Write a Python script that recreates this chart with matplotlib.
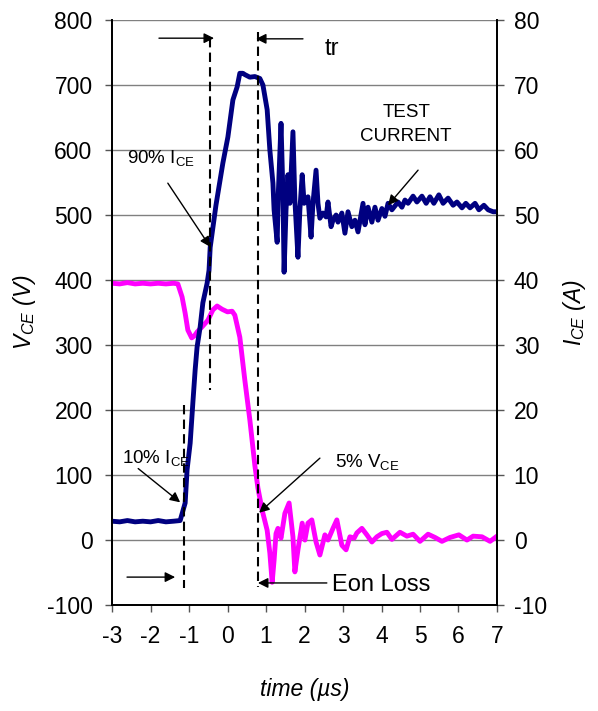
import numpy as np
import matplotlib
matplotlib.use("Agg")
import matplotlib.pyplot as plt

plt.rcParams['font.family'] = ['Liberation Sans', 'DejaVu Sans']
plt.rcParams['mathtext.fontset'] = 'custom'
plt.rcParams['mathtext.rm'] = 'Liberation Sans'
plt.rcParams['mathtext.it'] = 'Liberation Sans:italic'
plt.rcParams['axes.unicode_minus'] = False

# collector-emitter voltage (V)
t_v = [-3.0, -2.8, -2.6, -2.4, -2.2, -2.0, -1.8, -1.6, -1.4, -1.29, -1.18, -1.10,
       -1.03, -0.93, -0.86, -0.79, -0.66, -0.51, -0.38, -0.27, -0.14, 0.0, 0.12,
       0.19, 0.32, 0.45, 0.58, 0.71, 0.79, 0.90, 1.03, 1.10, 1.16, 1.21, 1.26,
       1.31, 1.39, 1.49, 1.60, 1.70, 1.75, 1.83, 1.94, 2.01, 2.09, 2.19, 2.30,
       2.40, 2.53, 2.61, 2.74, 2.84, 2.97, 3.08, 3.18, 3.29, 3.36, 3.49, 3.62,
       3.75, 3.88, 4.01, 4.14, 4.27, 4.48, 4.66, 4.82, 5.0, 5.21, 5.39, 5.57,
       5.78, 6.01, 6.22, 6.38, 6.61, 6.82, 7.0]
vce = [395, 394, 396, 394, 395, 394, 395, 394, 395, 394, 374, 349,
       323, 311, 314, 320, 328, 338, 354, 360, 355, 351, 352,
       346, 312, 246, 185, 115, 80, 46, 15, -20, -65, -31, 10,
       18, 3, 41, 57, 5, -49, -15, 26, 0, 26, 31, -3,
       -23, 8, 0, 18, 31, -8, -15, 5, 3, 11, 18, 8,
       -3, 5, 10, 12, 1, 12, 6, 9, -2, 9, 4, -2,
       4, 8, 0, 6, 5, -2, 6]

# collector current (A)
t_i = [-3.0, -2.8, -2.6, -2.4, -2.2, -2.0, -1.8, -1.6, -1.4, -1.23, -1.10, -1.05,
       -0.97, -0.90, -0.84, -0.79, -0.71, -0.64, -0.53, -0.48, -0.45, -0.30, -0.12,
       0.01, 0.14, 0.25, 0.32, 0.40, 0.45, 0.58, 0.71, 0.84, 0.92, 1.03, 1.10,
       1.18, 1.21, 1.29, 1.32, 1.39, 1.44, 1.47, 1.52, 1.57, 1.62, 1.70, 1.75,
       1.83, 1.88, 1.94, 1.99, 2.04, 2.09, 2.17, 2.22, 2.30, 2.35, 2.40, 2.48,
       2.56, 2.61, 2.69, 2.74, 2.82, 2.87, 2.97, 3.05, 3.13, 3.23, 3.31, 3.39,
       3.52, 3.57, 3.65, 3.75, 3.83, 3.91, 4.01, 4.09, 4.17, 4.27, 4.35, 4.43,
       4.53, 4.61, 4.69, 4.82, 4.92, 5.05, 5.16, 5.26, 5.36, 5.49, 5.60, 5.73,
       5.86, 5.96, 6.09, 6.19, 6.30, 6.43, 6.53, 6.66, 6.77, 6.90, 7.0]
ice = [2.9, 2.8, 3.0, 2.8, 2.9, 2.8, 3.0, 2.8, 2.9, 3.0, 5.7, 10.8,
       14.9, 21.1, 26.2, 29.7, 32.8, 36.5, 39.5, 41.5, 45.0, 51.5, 58.0,
       62.0, 67.7, 69.7, 71.8, 71.8, 71.6, 71.2, 71.3, 71.0, 70.0, 66.2, 60.0,
       54.9, 50.8, 45.8, 53.4, 64.1, 53.4, 41.2, 50.8, 56.2, 51.8, 62.8, 52.3,
       43.5, 50.8, 56.2, 51.8, 52.3, 52.8, 46.6, 51.8, 56.9, 51.8, 49.5, 50.3,
       49.7, 52.0, 48.2, 49.2, 50.0, 48.9, 50.3, 47.2, 50.5, 48.2, 49.2, 47.4,
       51.8, 48.5, 51.2, 48.9, 51.2, 49.2, 51.0, 49.8, 51.8, 50.8, 51.4, 52.0,
       51.2, 52.3, 51.8, 52.9, 52.0, 52.9, 51.8, 52.8, 51.8, 53.1, 51.8, 52.6,
       51.5, 52.0, 51.1, 51.8, 51.1, 51.8, 50.8, 51.5, 50.8, 50.5, 50.5]

# marker lines (time, V from, V to)
dash_lines = [(-1.13, 208, -74), (-0.45, 772, 231), (0.79, 782, -72)]

fig = plt.figure(figsize=(5.98, 7.11), dpi=100)
ax = fig.add_axes([0.1873, 0.149, 0.6438, 0.8229])
ax2 = ax.twinx()

ax.plot(t_v, vce, color='#FF00FF', lw=3.5, solid_joinstyle='round', solid_capstyle='round')
ax2.plot(t_i, ice, color='#000080', lw=3.5, solid_joinstyle='round', solid_capstyle='round')

ax.set_xlim(-3, 7)
ax.set_ylim(-100, 800)
ax2.set_ylim(-10, 80)
ax.set_xticks(np.arange(-3, 8, 1))
ax.set_yticks(np.arange(-100, 801, 100))
ax2.set_yticks(np.arange(-10, 81, 10))
ax.yaxis.grid(True, color='#808080', lw=1)
ax.set_axisbelow(True)

for a in (ax, ax2):
    a.spines['top'].set_visible(False)
    for s in ('left', 'right', 'bottom'):
        a.spines[s].set_linewidth(1.3)
ax.tick_params(axis='both', direction='out', length=5, width=1, color='#555555',
               labelsize=16.5, pad=9)
ax2.tick_params(axis='y', direction='out', length=5, width=1, color='#555555',
                labelsize=16.5, pad=7)

ax.set_xlabel('time (µs)', fontsize=16.5, style='italic', labelpad=22)
ax.set_ylabel(r'$\mathit{V_{CE}}$ (V)', fontsize=16.5, style='italic', labelpad=6)
ax2.set_ylabel(r'$\mathit{I_{CE}}$ (A)', fontsize=16.5, style='italic', labelpad=10)

tr = ax.transData
for x, y0, y1 in dash_lines:
    ax2.plot([x, x], [y0, y1], transform=tr, color='k', lw=1.5, ls=(0, (4.5, 2.5)))

arrow = dict(arrowstyle='-|>', color='k', lw=1, mutation_scale=15, shrinkA=0, shrinkB=0)

def note(xy, xytext):
    ax2.annotate('', xy=xy, xytext=xytext, xycoords=tr, textcoords=tr, arrowprops=arrow)

note((-0.35, 772), (-1.78, 772))
note((0.74, 771), (1.96, 771))
note((-0.45, 451), (-1.55, 549))
note((4.17, 515), (4.95, 569))
note((-1.23, 58), (-2.32, 110))
note((0.82, 42), (2.40, 126))
note((0.79, -66), (2.58, -66))
note((-1.36, -57), (-2.61, -57))

ax2.text(2.51, 746, 'tr', transform=tr, fontsize=17)
ax2.text(-2.61, 580, r'90% I$_{\mathrm{CE}}$', transform=tr, fontsize=13.5)
ax2.text(4.64, 651, 'TEST', transform=tr, fontsize=13.5, ha='center')
ax2.text(4.64, 614, 'CURRENT', transform=tr, fontsize=13.5, ha='center')
ax2.text(-2.74, 118, r'10% I$_{\mathrm{CE}}$', transform=tr, fontsize=13.5)
ax2.text(2.79, 112, r'5% V$_{\mathrm{CE}}$', transform=tr, fontsize=13.5)
ax2.text(2.71, -78, 'Eon Loss', transform=tr, fontsize=17)

fig.savefig('out.png', dpi=100)
